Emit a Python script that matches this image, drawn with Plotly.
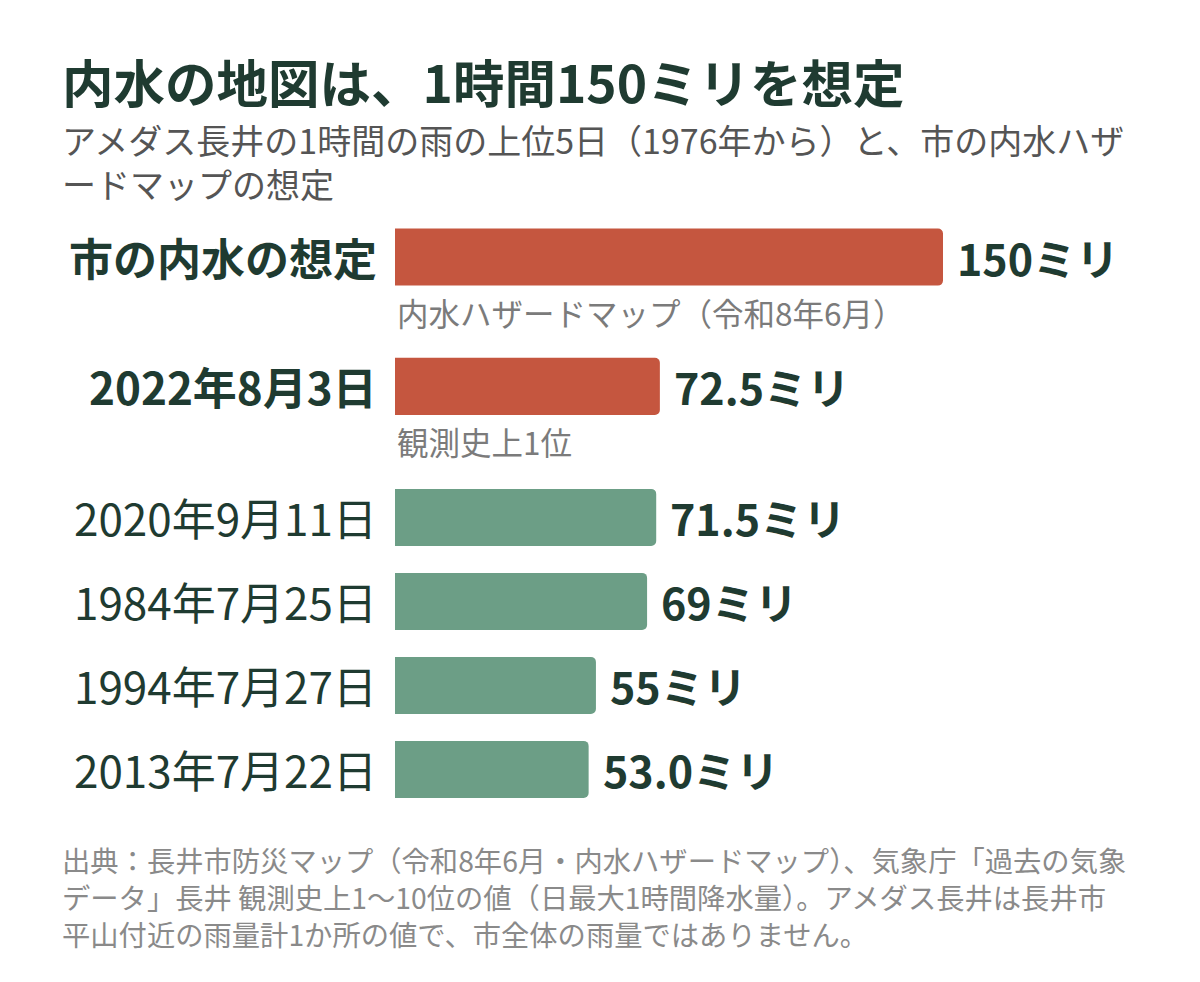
import plotly.graph_objects as go

# データ
labels = ["市の内水の想定", "2022年8月3日", "2020年9月11日", "1984年7月25日", "1994年7月27日", "2013年7月22日"]
values = [150, 72.5, 71.5, 69, 55, 53.0]
value_text = ["150ミリ", "72.5ミリ", "71.5ミリ", "69ミリ", "55ミリ", "53.0ミリ"]
highlight = [True, True, False, False, False, False]
notes = ["内水ハザードマップ（令和8年6月）", "観測史上1位", "", "", "", ""]

title = "内水の地図は、1時間150ミリを想定"
subtitle = ["アメダス長井の1時間の雨の上位5日（1976年から）と、市の内水ハザ",
            "ードマップの想定"]
source = ["出典：長井市防災マップ（令和8年6月・内水ハザードマップ）、気象庁「過去の気象",
          "データ」長井 観測史上1～10位の値（日最大1時間降水量）。アメダス長井は長井市",
          "平山付近の雨量計1か所の値で、市全体の雨量ではありません。"]

# レイアウト（行の位置：上の2本は注記の分だけ間を空ける）
row_pos = [0, 1.54, 3.1, 4.1, 5.1, 6.1]

FONT = "Noto Sans CJK JP, Noto Sans, sans-serif"
DARK = "#1f3b31"
RED = "#c5563f"
GREEN = "#6c9e86"
GRAY = "#7b7b7b"

OFF = 8  # ページの余白ぶん
W, H = 1200, 982
L, R, T, B = 395 - OFF, 0, 200 - OFF, 172
pw, ph = W - L - R, H - T - B


def px(x):
    return (x - OFF - L) / pw


def py(y):
    return (H - B - (y - OFF)) / ph


colors = [RED if h else GREEN for h in highlight]

fig = go.Figure(go.Bar(
    x=values, y=row_pos, orientation="h",
    marker=dict(color=colors, line=dict(width=0)),
    width=0.68, hoverinfo="skip",
))

ann = []
for lab, v, vt, h, n, p in zip(labels, values, value_text, highlight, notes, row_pos):
    ann.append(dict(x=0, y=p, xref="x", yref="y", xanchor="right", yanchor="middle",
                    xshift=-16, showarrow=False,
                    text=f"<b>{lab}</b>" if h else lab,
                    font=dict(size=44, color=DARK)))
    ann.append(dict(x=v, y=p, xref="x", yref="y", xanchor="left", yanchor="middle",
                    xshift=12, showarrow=False, text=f"<b>{vt}</b>",
                    font=dict(size=43, color=DARK)))
    if n:
        ann.append(dict(x=0, y=p, xref="x", yref="y", xanchor="left", yanchor="middle",
                        xshift=0, yshift=-55, showarrow=False, text=n,
                        font=dict(size=31.5, color=GRAY)))

ann.append(dict(x=px(60), y=py(80), xref="paper", yref="paper", xanchor="left",
                yanchor="middle", showarrow=False, text=f"<b>{title}</b>",
                font=dict(size=51.5, color=DARK)))
ann.append(dict(x=px(60), y=py(161), xref="paper", yref="paper",
                xanchor="left", yanchor="middle", align="left", showarrow=False,
                text="<br>".join(subtitle),
                font=dict(size=34, color="#555555")))
ann.append(dict(x=px(60), y=py(896), xref="paper", yref="paper",
                xanchor="left", yanchor="middle", align="left", showarrow=False,
                text="<br>".join(source),
                font=dict(size=28.3, color="#8a8a8a")))

fig.update_layout(
    width=W, height=H,
    margin=dict(l=L, r=R, t=T, b=B),
    paper_bgcolor="white", plot_bgcolor="white",
    font=dict(family=FONT, color=DARK),
    showlegend=False,
    barcornerradius=5,
    annotations=ann,
    xaxis=dict(range=[0, pw / (548 / 150)], visible=False, fixedrange=True),
    yaxis=dict(range=[-0.679 + ph / 84, -0.679], visible=False, fixedrange=True),
)

fig.write_html("out.html", config={"displayModeBar": False})
